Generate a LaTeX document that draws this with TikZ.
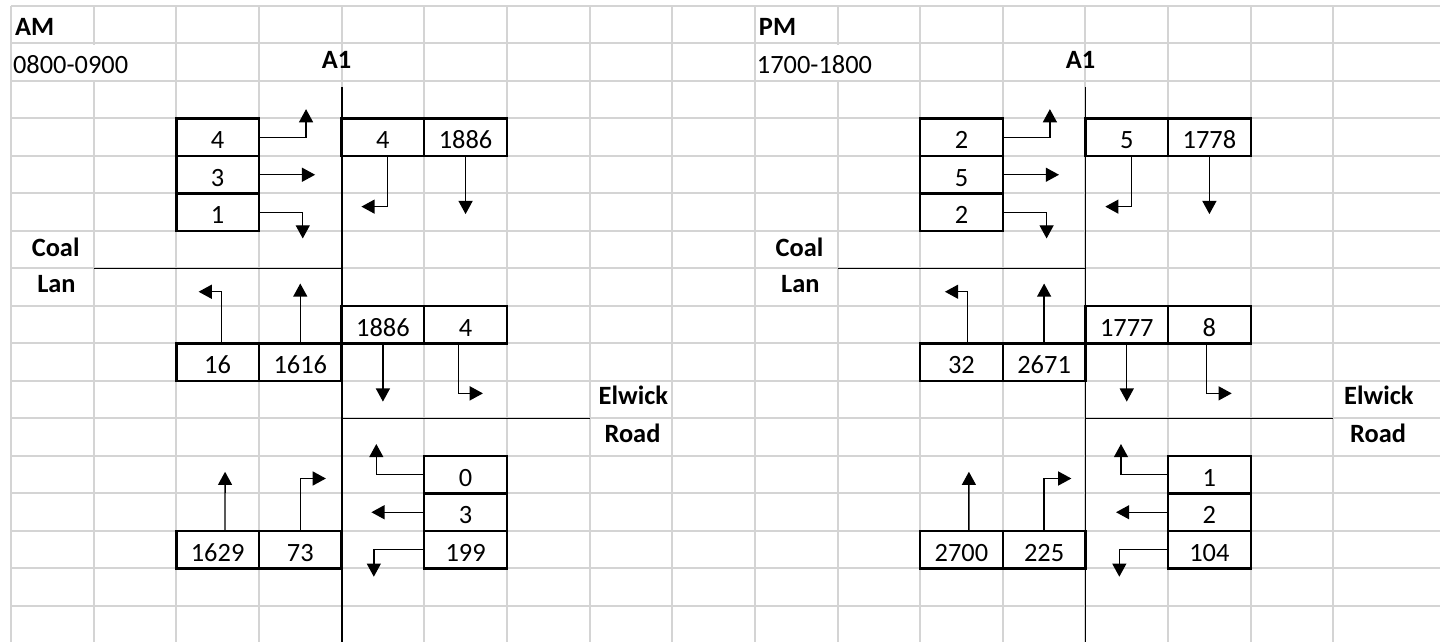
\documentclass[tikz,border=0pt]{standalone}
\usepackage{fontspec}
\setmainfont{Carlito}
\usetikzlibrary{arrows.meta}
\definecolor{gridgray}{RGB}{212,212,212}
\newcommand{\cellfont}{\fontsize{13.2pt}{15pt}\selectfont}

\begin{document}
\begin{tikzpicture}[
        x=41.325pt, y=-18.75pt,
        gridline/.style={draw=gridgray, line width=1pt},
        cell/.style={draw, line width=1.2pt, inner sep=0pt, font=\cellfont,
                     minimum width=41.325pt, text height=15.25pt, text depth=3.5pt},
        road/.style={line width=0.9pt},
        arr/.style={-{Triangle[width=7pt,length=6.6pt]}, line width=0.7pt},
        lbl/.style={inner sep=0pt, font=\cellfont},
        hdr/.style={inner sep=0pt, font=\cellfont\bfseries}
    ]
    \useasboundingbox (-0.1331,-0.16) rectangle (17.29,16.96);

    % sheet grid
    \foreach \c in {0,...,16}
        \draw[gridline] (\c,0) -- (\c,16.96);
    \foreach \r in {0,...,16}
        \draw[gridline] (0,\r) -- (17.29,\r);

    % AM peak
    \begin{scope}
        \fill[white] (0.97,1.03) rectangle (1.03,1.97);
        \node[hdr, anchor=base west] (a-per)  at (0.045,0.8)  {AM};
        \node[lbl, anchor=base west] (a-time) at (0.02,1.81)  {0800-0900};
        \node[hdr, anchor=base]      (a-a1)   at (3.94,1.66)  {A1};
        \node[hdr, anchor=base]      (a-coal) at (0.54,6.67)  {Coal};
        \node[hdr, anchor=base]      (a-lan)  at (0.55,7.65)  {Lan};
        \node[hdr, anchor=base]      (a-elw)  at (7.53,10.64) {Elwick};
        \node[hdr, anchor=base]      (a-rd)   at (7.52,11.65) {Road};

        \coordinate (a-a1top) at (4,2.16);
        \coordinate (a-a1bot) at (4,16.96);
        \coordinate (a-clw)   at (1,7);
        \coordinate (a-cle)   at (4,7);
        \coordinate (a-erw)   at (4,11);
        \coordinate (a-ere)   at (7,11);
        \draw[road] (a-a1top) -- (a-a1bot);
        \draw[road] (a-clw)   -- (a-cle);
        \draw[road] (a-erw)   -- (a-ere);

        \node[cell] (a-tl1) at (2.5,3.5)  {4};
        \node[cell] (a-tl2) at (2.5,4.5)  {3};
        \node[cell] (a-tl3) at (2.5,5.5)  {1};
        \node[cell] (a-tr1) at (4.5,3.5)  {4};
        \node[cell] (a-tr2) at (5.5,3.5)  {1886};
        \node[cell] (a-ml1) at (2.5,9.5)  {16};
        \node[cell] (a-ml2) at (3.5,9.5)  {1616};
        \node[cell] (a-mr1) at (4.5,8.5)  {1886};
        \node[cell] (a-mr2) at (5.5,8.5)  {4};
        \node[cell] (a-bl1) at (2.5,14.5) {1629};
        \node[cell] (a-bl2) at (3.5,14.5) {73};
        \node[cell] (a-br1) at (5.5,12.5) {0};
        \node[cell] (a-br2) at (5.5,13.5) {3};
        \node[cell] (a-br3) at (5.5,14.5) {199};

        \coordinate (a-tl1e) at (3.57,2.75);
        \coordinate (a-tl2e) at (3.68,4.5);
        \coordinate (a-tl3e) at (3.53,6.2);
        \coordinate (a-tr1e) at (4.24,5.35);
        \coordinate (a-tr2e) at (5.5,5.55);
        \coordinate (a-ml1e) at (2.27,7.62);
        \coordinate (a-ml2e) at (3.5,7.4);
        \coordinate (a-mr1e) at (4.5,10.55);
        \coordinate (a-mr2e) at (5.71,10.33);
        \coordinate (a-bl1e) at (2.59,12.42);
        \coordinate (a-bl2e) at (3.81,12.6);
        \coordinate (a-br1e) at (4.42,11.68);
        \coordinate (a-br2e) at (4.36,13.5);
        \coordinate (a-br3e) at (4.39,15.22);

        \draw[arr] (a-tl1.east) -| (a-tl1e);
        \draw[arr] (a-tl2.east) -- (a-tl2e);
        \draw[arr] (a-tl3.east) -| (a-tl3e);
        \draw[arr] ([xshift=2.4pt]a-tr1.south) |- (a-tr1e);
        \draw[arr] (a-tr2.south) -- (a-tr2e);
        \draw[arr] ([xshift=2pt]a-ml1.north) |- (a-ml1e);
        \draw[arr] (a-ml2.north) -- (a-ml2e);
        \draw[arr] (a-mr1.south) -- (a-mr1e);
        \draw[arr] ([xshift=-3.5pt]a-mr2.south) |- (a-mr2e);
        \draw[arr] ([xshift=3.7pt]a-bl1.north) -- (a-bl1e);
        \draw[arr] (a-bl2.north) |- (a-bl2e);
        \draw[arr] (a-br1.west) -| (a-br1e);
        \draw[arr] (a-br2.west) -- (a-br2e);
        \draw[arr] (a-br3.west) -| (a-br3e);
    \end{scope}

    % PM peak
    \begin{scope}[shift={(9,0)}]
        \fill[white] (0.97,1.03) rectangle (1.03,1.97);
        \node[hdr, anchor=base west] (p-per)  at (0.045,0.8)  {PM};
        \node[lbl, anchor=base west] (p-time) at (0.02,1.81)  {1700-1800};
        \node[hdr, anchor=base]      (p-a1)   at (3.94,1.66)  {A1};
        \node[hdr, anchor=base]      (p-coal) at (0.54,6.67)  {Coal};
        \node[hdr, anchor=base]      (p-lan)  at (0.55,7.65)  {Lan};
        \node[hdr, anchor=base]      (p-elw)  at (7.55,10.64) {Elwick};
        \node[hdr, anchor=base]      (p-rd)   at (7.54,11.65) {Road};

        \coordinate (p-a1top) at (4,2.16);
        \coordinate (p-a1bot) at (4,16.96);
        \coordinate (p-clw)   at (1,7);
        \coordinate (p-cle)   at (4,7);
        \coordinate (p-erw)   at (4,11);
        \coordinate (p-ere)   at (7,11);
        \draw[road] (p-a1top) -- (p-a1bot);
        \draw[road] (p-clw)   -- (p-cle);
        \draw[road] (p-erw)   -- (p-ere);

        \node[cell] (p-tl1) at (2.5,3.5)  {2};
        \node[cell] (p-tl2) at (2.5,4.5)  {5};
        \node[cell] (p-tl3) at (2.5,5.5)  {2};
        \node[cell] (p-tr1) at (4.5,3.5)  {5};
        \node[cell] (p-tr2) at (5.5,3.5)  {1778};
        \node[cell] (p-ml1) at (2.5,9.5)  {32};
        \node[cell] (p-ml2) at (3.5,9.5)  {2671};
        \node[cell] (p-mr1) at (4.5,8.5)  {1777};
        \node[cell] (p-mr2) at (5.5,8.5)  {8};
        \node[cell] (p-bl1) at (2.5,14.5) {2700};
        \node[cell] (p-bl2) at (3.5,14.5) {225};
        \node[cell] (p-br1) at (5.5,12.5) {1};
        \node[cell] (p-br2) at (5.5,13.5) {2};
        \node[cell] (p-br3) at (5.5,14.5) {104};

        \coordinate (p-tl1e) at (3.57,2.75);
        \coordinate (p-tl2e) at (3.68,4.5);
        \coordinate (p-tl3e) at (3.53,6.2);
        \coordinate (p-tr1e) at (4.24,5.35);
        \coordinate (p-tr2e) at (5.5,5.55);
        \coordinate (p-ml1e) at (2.3,7.62);
        \coordinate (p-ml2e) at (3.5,7.4);
        \coordinate (p-mr1e) at (4.5,10.55);
        \coordinate (p-mr2e) at (5.77,10.33);
        \coordinate (p-bl1e) at (2.59,12.42);
        \coordinate (p-bl2e) at (3.83,12.6);
        \coordinate (p-br1e) at (4.43,11.68);
        \coordinate (p-br2e) at (4.37,13.5);
        \coordinate (p-br3e) at (4.41,15.22);

        \draw[arr] (p-tl1.east) -| (p-tl1e);
        \draw[arr] (p-tl2.east) -- (p-tl2e);
        \draw[arr] (p-tl3.east) -| (p-tl3e);
        \draw[arr] ([xshift=2.4pt]p-tr1.south) |- (p-tr1e);
        \draw[arr] (p-tr2.south) -- (p-tr2e);
        \draw[arr] ([xshift=3pt]p-ml1.north) |- (p-ml1e);
        \draw[arr] (p-ml2.north) -- (p-ml2e);
        \draw[arr] (p-mr1.south) -- (p-mr1e);
        \draw[arr] ([xshift=-1.5pt]p-mr2.south) |- (p-mr2e);
        \draw[arr] ([xshift=3.7pt]p-bl1.north) -- (p-bl1e);
        \draw[arr] (p-bl2.north) |- (p-bl2e);
        \draw[arr] (p-br1.west) -| (p-br1e);
        \draw[arr] (p-br2.west) -- (p-br2e);
        \draw[arr] (p-br3.west) -| (p-br3e);
    \end{scope}
\end{tikzpicture}
\end{document}
